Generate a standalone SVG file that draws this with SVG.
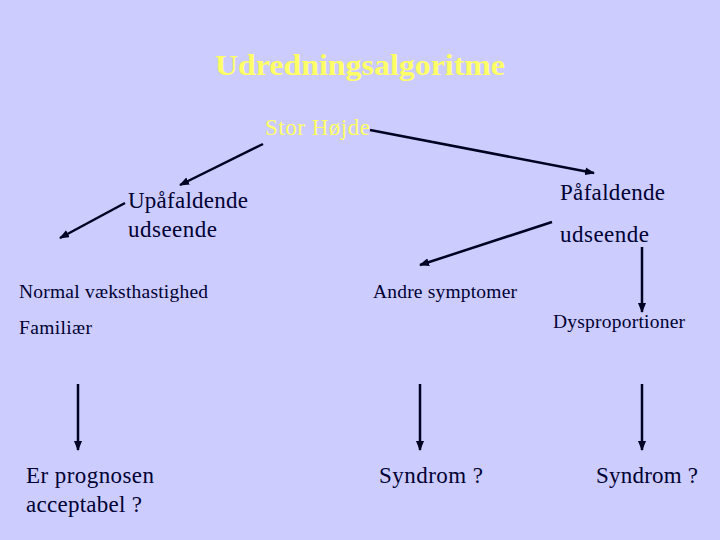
<svg xmlns="http://www.w3.org/2000/svg" width="720" height="540" viewBox="0 0 720 540">
<defs>
<style>
.t{font-family:'Liberation Serif','DejaVu Serif',serif;fill:#000033}
.y{font-family:'Liberation Serif','DejaVu Serif',serif;fill:#FFFF66}
.c line{stroke:#000022;stroke-width:2.5;marker-end:url(#ah)}
</style>
<marker id="ah" markerUnits="userSpaceOnUse" markerWidth="10" markerHeight="8" refX="9" refY="4" orient="auto">
<path d="M0,0 L10,4 L0,8 Z" fill="#000022"/>
</marker>
</defs>
<rect width="720" height="540" fill="#CCCCFF"/>
<g id="title"><text class="y" x="215" y="75" font-size="30" font-weight="bold" textLength="290" lengthAdjust="spacingAndGlyphs">Udredningsalgoritme</text></g>
<g id="stor"><text class="y" x="265" y="135" font-size="23" textLength="105" lengthAdjust="spacing">Stor Højde</text></g>
<g id="upaf"><text class="t" font-size="23"><tspan x="128" y="208" textLength="120" lengthAdjust="spacing">Upåfaldende</tspan><tspan x="128" y="237" textLength="89" lengthAdjust="spacing">udseende</tspan></text></g>
<g id="paf"><text class="t" font-size="23"><tspan x="560" y="200" textLength="105" lengthAdjust="spacing">Påfaldende</tspan><tspan x="560" y="242" textLength="89" lengthAdjust="spacing">udseende</tspan></text></g>
<g id="normal"><text class="t" font-size="19.5"><tspan x="19" y="298" textLength="189" lengthAdjust="spacing">Normal væksthastighed</tspan><tspan x="19" y="334" textLength="73" lengthAdjust="spacing">Familiær</tspan></text></g>
<g id="andre"><text class="t" x="373" y="298" font-size="19.5" textLength="144" lengthAdjust="spacing">Andre symptomer</text></g>
<g id="dysp"><text class="t" x="553" y="328" font-size="19.5" textLength="132" lengthAdjust="spacing">Dysproportioner</text></g>
<g id="progn"><text class="t" font-size="23"><tspan x="26" y="483" textLength="128" lengthAdjust="spacing">Er prognosen</tspan><tspan x="26" y="512" textLength="116" lengthAdjust="spacing">acceptabel ?</tspan></text></g>
<g id="syn1"><text class="t" x="379" y="483" font-size="23" textLength="104" lengthAdjust="spacing">Syndrom ?</text></g>
<g id="syn2"><text class="t" x="596" y="483" font-size="23" textLength="102" lengthAdjust="spacing">Syndrom ?</text></g>
<g id="connectors" class="c">
<line x1="263" y1="144" x2="180" y2="185"/>
<line x1="125" y1="203" x2="60" y2="238"/>
<line x1="370" y1="130" x2="594" y2="173"/>
<line x1="552" y1="222" x2="420" y2="265"/>
<line x1="642" y1="247" x2="642" y2="312"/>
<line x1="78" y1="384" x2="78" y2="450"/>
<line x1="420" y1="384" x2="420" y2="450"/>
<line x1="642" y1="384" x2="642" y2="450"/>
</g>
</svg>
